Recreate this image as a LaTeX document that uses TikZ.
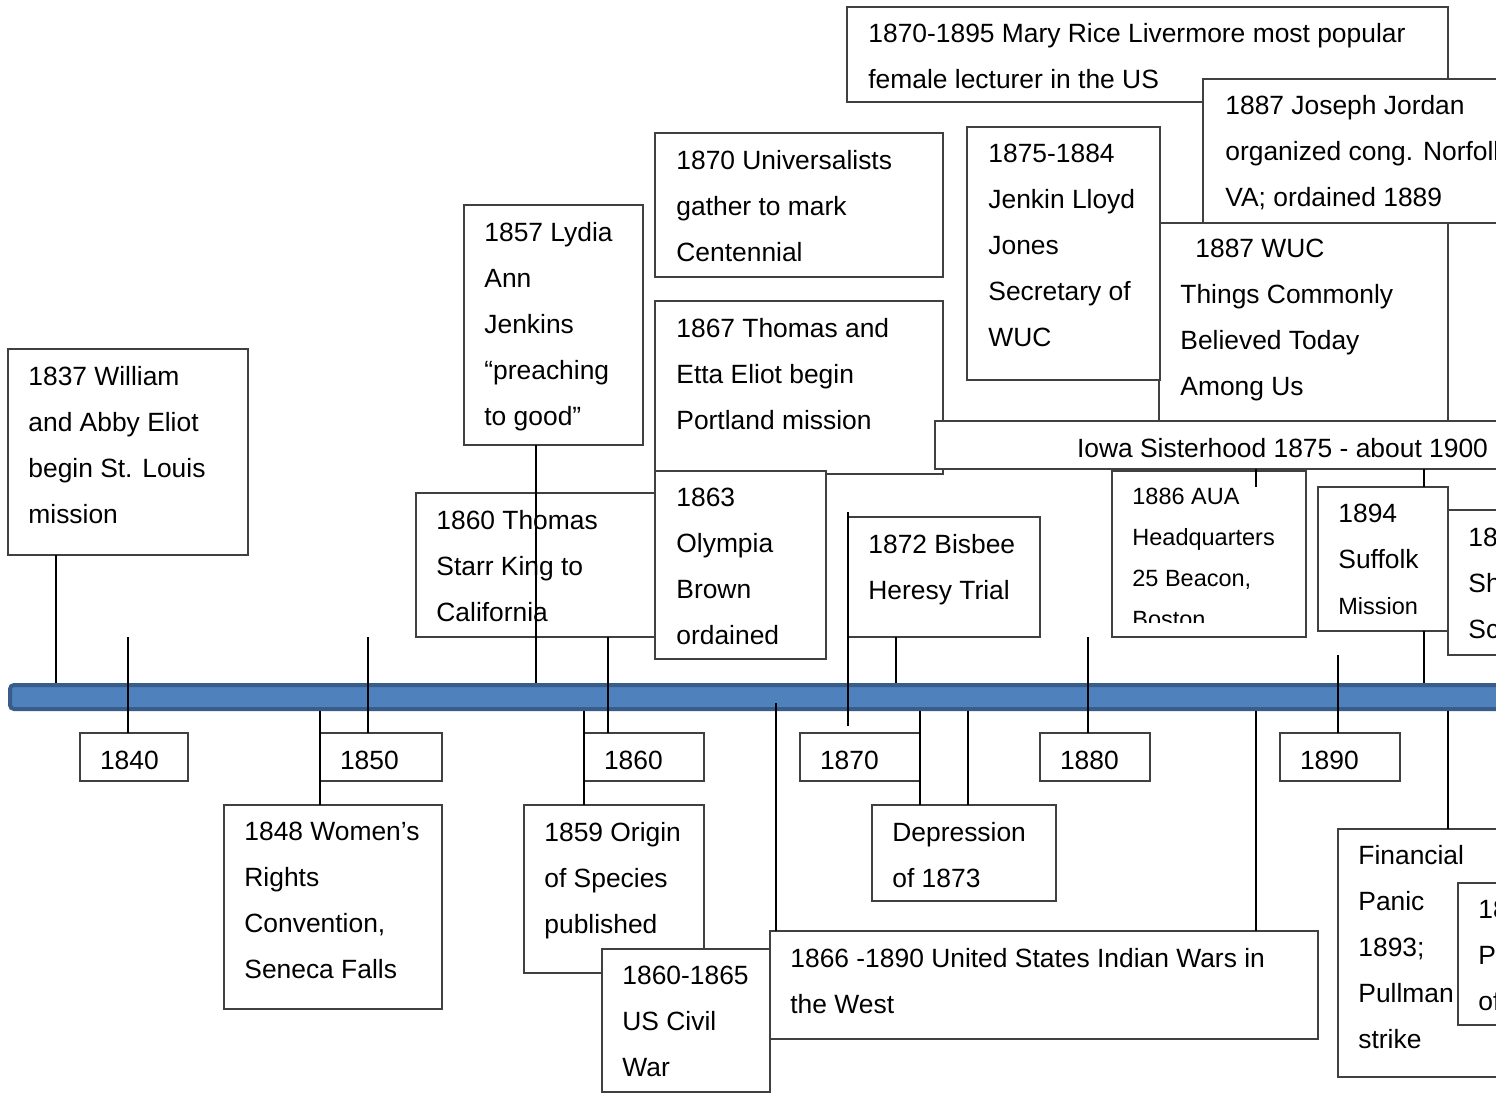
\documentclass[tikz,border=0pt]{standalone}
\usepackage{fontspec}
\setmainfont{Liberation Sans}
\usepackage{tikz}
\definecolor{barfill}{HTML}{4F81BD}
\definecolor{barline}{HTML}{385D8A}
\definecolor{boxline}{HTML}{404040}

\begin{document}
\begin{tikzpicture}[x=0.5pt,y=-0.5pt,
  evbox/.style={draw=boxline,fill=white,line width=1pt,anchor=north west,inner sep=0pt,outer sep=0pt},
  evtxt/.style={anchor=north west,align=left,inner sep=0pt,font=\fontsize{13.2}{23}\selectfont},
  smalltxt/.style={evtxt,font=\fontsize{11.75}{20.5}\selectfont},
  yearbox/.style={evbox,inner xsep=10pt,minimum height=24pt,text height=12.4pt,text depth=0pt,align=left,font=\fontsize{13.2}{23}\selectfont},
  timebar/.style={draw=barline,fill=barfill,line width=2pt,rounded corners=2pt,anchor=west,inner sep=0pt},
  conn/.style={black,line width=1pt}]
\useasboundingbox (0,0) rectangle (1496,1093);
\clip (0,0) rectangle (1496,1093);
\fill[white] (0,0) rectangle (1496,1093);

% boxes above the bar
\node[evbox,minimum width=300.5pt,minimum height=47.5pt] (ev1895) at (847,7) {};
\node[evtxt] (t1895) at ([shift={(21,16)}]ev1895.north west) {1870-1895 Mary Rice Livermore most popular\\female lecturer in the US};
\node[evbox,minimum width=198.5pt,minimum height=72pt] (ev1887j) at (1203,79) {};
\node[evtxt] (t1887j) at ([shift={(22,16)}]ev1887j.north west) {1887 Joseph Jordan\\organized cong. Norfolk\\VA; ordained 1889};
\node[evbox,minimum width=144.5pt,minimum height=108.5pt] (ev1887w) at (1159,223) {};
\node[evtxt] (t1887w) at ([shift={(21,16)}]ev1887w.north west) {\hspace*{7.5pt}1887 WUC\\Things Commonly\\Believed Today\\Among Us};
\node[evbox,minimum width=96.5pt,minimum height=126.5pt] (ev1875) at (967,127) {};
\node[evtxt] (t1875) at ([shift={(21,17)}]ev1875.north west) {1875-1884\\Jenkin Lloyd\\Jones\\Secretary of\\WUC};
\node[evbox,minimum width=144pt,minimum height=72pt] (ev1870) at (655,133) {};
\node[evtxt] (t1870) at ([shift={(21,17)}]ev1870.north west) {1870 Universalists\\gather to mark\\Centennial};
\node[evbox,minimum width=144pt,minimum height=86.5pt] (ev1867) at (655,301) {};
\node[evtxt] (t1867) at ([shift={(21,17)}]ev1867.north west) {1867 Thomas and\\Etta Eliot begin\\Portland mission};
\node[evbox,minimum width=89.5pt,minimum height=120pt] (ev1857) at (464,205) {};
\node[evtxt] (t1857) at ([shift={(20,17)}]ev1857.north west) {1857 Lydia\\Ann\\Jenkins\\“preaching\\to good”};
\node[evbox,minimum width=120pt,minimum height=103pt] (ev1837) at (8,349) {};
\node[evtxt] (t1837) at ([shift={(20,17)}]ev1837.north west) {1837 William\\and Abby Eliot\\begin St. Louis\\mission};
\node[evbox,minimum width=119.5pt,minimum height=72pt] (ev1860) at (416,493) {};
\node[evtxt] (t1860) at ([shift={(20,17)}]ev1860.north west) {1860 Thomas\\Starr King to\\California};
\node[evbox,minimum width=347.5pt,minimum height=24pt,text height=12pt,text depth=0pt,font=\fontsize{13.2}{23}\selectfont] (iowa) at (935,421) {Iowa Sisterhood 1875 - about 1900};
\node[evbox,minimum width=85.5pt,minimum height=94pt] (ev1863) at (655,471) {};
\node[evtxt] (t1863) at ([shift={(21,17)}]ev1863.north west) {1863\\Olympia\\Brown\\ordained};
\node[evbox,minimum width=96pt,minimum height=60pt] (ev1872) at (848,517) {};
\node[evtxt] (t1872) at ([shift={(20,17)}]ev1872.north west) {1872 Bisbee\\Heresy Trial};
\node[evbox,minimum width=97pt,minimum height=83pt] (ev1886) at (1112,471) {};
\begin{scope}
\clip (ev1886.north west) rectangle ([shift={(0,-15)}]ev1886.south east);
\node[smalltxt] (t1886) at ([shift={(20,17)}]ev1886.north west) {1886 AUA\\Headquarters\\25 Beacon,\\Boston};
\end{scope}
\node[evbox,minimum width=65pt,minimum height=72pt] (ev1894) at (1318,487) {};
\node[evtxt] (t1894) at ([shift={(20,17)}]ev1894.north west) {1894\\Suffolk\\{\fontsize{11.75}{20.5}\selectfont Mission}};
\node[evbox,minimum width=76pt,minimum height=72.5pt] (ev18s) at (1448,510) {};
\node[evtxt] (t18s) at ([shift={(20,18)}]ev18s.north west) {18\\Sh\\Sc};

% the bar and the year boxes
\node[timebar,minimum width=800pt,minimum height=12pt] (bar) at (8,697) {};
\node[yearbox,text width=34pt] (y1840) at (80,733) {1840};
\node[yearbox,text width=41pt] (y1850) at (320,733) {1850};
\node[yearbox,text width=40pt] (y1860) at (584,733) {1860};
\node[yearbox,text width=40pt] (y1870) at (800,733) {1870};
\node[yearbox,text width=35pt] (y1880) at (1040,733) {1880};
\node[yearbox,text width=40pt] (y1890) at (1280,733) {1890};

% boxes below the bar
\node[evbox,minimum width=109pt,minimum height=102pt] (ev1848) at (224,805) {};
\node[evtxt] (t1848) at ([shift={(20,17)}]ev1848.north west) {1848 Women’s\\Rights\\Convention,\\Seneca Falls};
\node[evbox,minimum width=90pt,minimum height=84pt] (ev1859) at (524,805) {};
\node[evtxt] (t1859) at ([shift={(20,17)}]ev1859.north west) {1859 Origin\\of Species\\published};
\node[evbox,minimum width=84pt,minimum height=71.5pt] (ev1861) at (602,949) {};
\node[evtxt] (t1861) at ([shift={(20,17)}]ev1861.north west) {1860-1865\\US Civil\\War};
\node[evbox,minimum width=274pt,minimum height=54pt] (ev1866) at (770,931) {};
\node[evtxt] (t1866) at ([shift={(20,17)}]ev1866.north west) {1866 -1890 United States Indian Wars in\\the West};
\node[evbox,minimum width=92pt,minimum height=48pt] (dep1873) at (872,805) {};
\node[evtxt] (tdep) at ([shift={(20,17)}]dep1873.north west) {Depression\\of 1873};
\node[evbox,minimum width=131pt,minimum height=124pt] (fin1893) at (1338,829) {};
\node[evtxt] (tfin) at ([shift={(20,16)}]fin1893.north west) {Financial\\Panic\\1893;\\Pullman\\strike};
\node[evbox,minimum width=71pt,minimum height=71pt] (ev18p) at (1458,883) {};
\node[evtxt] (t18p) at ([shift={(20,17)}]ev18p.north west) {18\\P\\of};

% connectors
\coordinate (k1840) at (128,637);
\coordinate (k1850) at (368,637);
\coordinate (k1880) at (1088,637);
\coordinate (k1890) at (1338,655);
\coordinate (k1870a) at (848,512);
\coordinate (k1870b) at (848,726);
\coordinate (k1866) at (776,703);
\coordinate (kAUA) at (1256,487);
\coordinate (x1837) at (56,0);
\coordinate (x1857) at (536,0);
\coordinate (x1860) at (608,0);
\coordinate (x1872) at (896,0);
\coordinate (x1894) at (1424,0);
\coordinate (x1848) at (320,0);
\coordinate (x1859) at (584,0);
\coordinate (x1873a) at (920,0);
\coordinate (x1873b) at (968,0);
\coordinate (x1890) at (1256,0);
\coordinate (x1893) at (1448,0);

\draw[conn] (ev1837.south -| x1837) -- (bar.north -| x1837);
\draw[conn] (k1840) -- (k1840 |- y1840.north);
\draw[conn] (k1850) -- (k1850 |- y1850.north);
\draw[conn] (ev1857.south -| x1857) -- (bar.north -| x1857);
\draw[conn] (ev1860.south -| x1860) -- (y1860.north -| x1860);
\draw[conn] (k1870a) -- (k1870b);
\draw[conn] (ev1872.south -| x1872) -- (bar.north -| x1872);
\draw[conn] (k1880) -- (k1880 |- y1880.north);
\draw[conn] (iowa.south -| kAUA) -- (kAUA);
\draw[conn] (iowa.south -| x1894) -- (ev1894.north -| x1894);
\draw[conn] (ev1894.south -| x1894) -- (bar.north -| x1894);
\draw[conn] (k1890) -- (k1890 |- y1890.north);
\draw[conn] (bar.south -| x1848) -- (ev1848.north -| x1848);
\draw[conn] (bar.south -| x1859) -- (ev1859.north -| x1859);
\draw[conn] (k1866) -- (k1866 |- ev1866.north);
\draw[conn] (bar.south -| x1873a) -- (dep1873.north -| x1873a);
\draw[conn] (bar.south -| x1873b) -- (dep1873.north -| x1873b);
\draw[conn] (bar.south -| x1890) -- (ev1866.north -| x1890);
\draw[conn] (bar.south -| x1893) -- (fin1893.north -| x1893);
\end{tikzpicture}
\end{document}
